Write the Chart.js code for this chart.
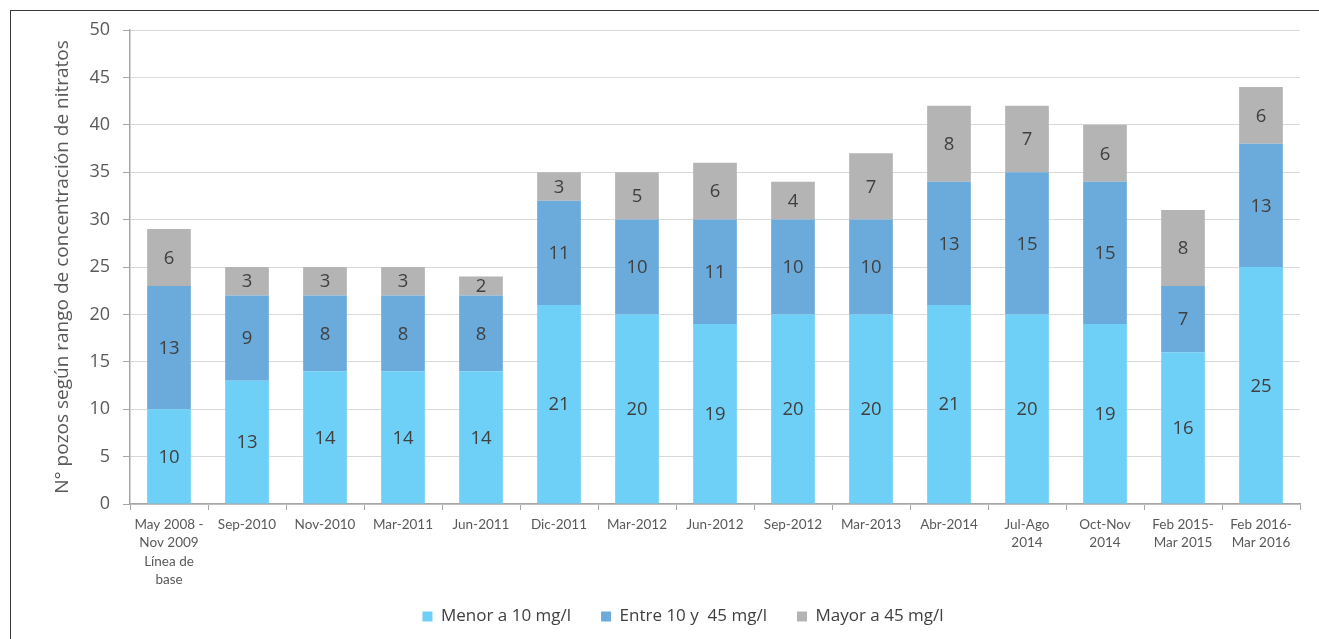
<!DOCTYPE html>
<html>
<head>
<meta charset="utf-8">
<script src="https://cdn.jsdelivr.net/npm/chart.js@4.4.1/dist/chart.umd.min.js"></script>
<style>
  html, body { margin: 0; padding: 0; background: #fff; }
  #wrap { position: relative; width: 1319px; height: 639px; overflow: hidden; }
  #frame { position: absolute; left: 10px; top: 10px; right: -5px; bottom: -5px;
           border-left: 1.5px solid #3a3a3a; border-top: 1.5px solid #3a3a3a; pointer-events: none; }
  canvas { position: absolute; left: 0; top: 0; }
</style>
</head>
<body>
<div id="wrap">
  <canvas id="c" width="1319" height="639"></canvas>
  <div id="frame"></div>
</div>
<script>
// Sampling campaigns (x axis)
const categories = [
  ["May 2008 -", "Nov 2009", "Línea de", "base"],
  "Sep-2010", "Nov-2010", "Mar-2011", "Jun-2011", "Dic-2011",
  "Mar-2012", "Jun-2012", "Sep-2012", "Mar-2013", "Abr-2014",
  ["Jul-Ago", "2014"], ["Oct-Nov", "2014"],
  ["Feb 2015-", "Mar 2015"], ["Feb 2016-", "Mar 2016"]
];

// Number of wells per nitrate concentration range
const menor10   = [10, 13, 14, 14, 14, 21, 20, 19, 20, 20, 21, 20, 19, 16, 25];
const entre1045 = [13,  9,  8,  8,  8, 11, 10, 11, 10, 10, 13, 15, 15,  7, 13];
const mayor45   = [ 6,  3,  3,  3,  2,  3,  5,  6,  4,  7,  8,  7,  6,  8,  6];

const seriesNames = ["Menor a 10 mg/l", "Entre 10 y  45 mg/l", "Mayor a 45 mg/l"];
const yTicks = [0, 5, 10, 15, 20, 25, 30, 35, 40, 45, 50];

const uiFont = "'Open Sans', 'DejaVu Sans', sans-serif";
const axisFont = "Lato, 'Open Sans', sans-serif";

// Writes each segment's value in the middle of its bar segment
const segmentValues = {
  id: 'segmentValues',
  afterDatasetsDraw(chart) {
    const ctx = chart.ctx;
    ctx.save();
    ctx.font = "18.5px " + uiFont;
    ctx.fillStyle = "#404040";
    ctx.textAlign = "center";
    ctx.textBaseline = "middle";
    chart.data.datasets.forEach((ds, i) => {
      const meta = chart.getDatasetMeta(i);
      meta.data.forEach((bar, j) => {
        const v = ds.data[j];
        if (!v) return;
        const p = bar.getProps(['x', 'y', 'base'], true);
        ctx.fillText(String(v), p.x, (p.y + p.base) / 2 + 1);
      });
    });
    ctx.restore();
  }
};

// Let the multi-line category labels run below the x scale box
const unclippedLabels = {
  id: 'unclippedLabels',
  beforeDraw(chart) {
    chart.scales.x._computeLabelArea = () => undefined;
  }
};

new Chart(document.getElementById('c'), {
  type: 'bar',
  data: {
    labels: categories,
    datasets: [
      { label: seriesNames[0], data: menor10,   backgroundColor: "#6ed0f6" },
      { label: seriesNames[1], data: entre1045, backgroundColor: "#6aabdc" },
      { label: seriesNames[2], data: mayor45,   backgroundColor: "#b4b4b4" }
    ]
  },
  options: {
    responsive: false,
    animation: false,
    events: [],
    datasets: { bar: { categoryPercentage: 1.0, barPercentage: 0.56 } },
    layout: { padding: { left: 66, right: 19, top: 30, bottom: 4 } },
    plugins: {
      tooltip: { enabled: false },
      legend: {
        position: 'bottom',
        labels: {
          font: { family: uiFont, size: 17 },
          color: "#404040",
          boxWidth: 10, boxHeight: 10,
          padding: 30
        }
      }
    },
    scales: {
      x: {
        stacked: true,
        grid: { display: true, drawOnChartArea: false, tickLength: 6, color: "#a6a6a6", offset: true },
        border: { color: "#a6a6a6", width: 1.5 },
        ticks: {
          font: { family: axisFont, size: 13.5, lineHeight: 1.37 },
          color: "#595959",
          maxRotation: 0, autoSkip: false, padding: 5
        },
        afterFit(scale) { scale.height = 74; }
      },
      y: {
        stacked: true,
        min: 0, max: 50,
        afterBuildTicks(scale) { scale.ticks = yTicks.map(v => ({ value: v })); },
        grid: { color: "#d9d9d9", tickLength: 7, tickColor: "#a6a6a6", lineWidth: 1 },
        border: { color: "#a6a6a6", width: 1.5 },
        ticks: { font: { family: uiFont, size: 18 }, color: "#595959", padding: 13 },
        title: {
          display: true,
          text: "N° pozos según rango de concentración de nitratos",
          font: { family: uiFont, size: 19 },
          color: "#595959",
          padding: { top: -15, bottom: 0 }
        },
        afterFit(scale) { scale.width = 64; }
      }
    }
  },
  plugins: [segmentValues, unclippedLabels]
});
</script>
</body>
</html>
